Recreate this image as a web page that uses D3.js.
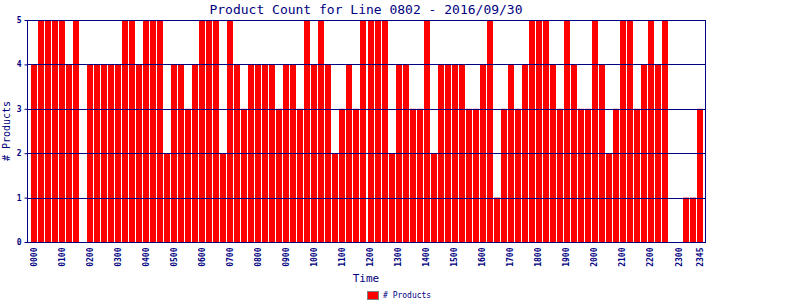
<!DOCTYPE html>
<head>
    <meta charset="utf-8">
    <script src="https://d3js.org/d3.v7.min.js"></script>
    <style>
        body { margin: 0; background: #fff; }
        text { font-family: "DejaVu Sans Mono", monospace; fill: #000080; }
    </style>
</head>
<body>
    <svg></svg>
    <script>
        // product counts per 15 minute slot
        var slots = [];
        for (var h = 0; h < 24; h++) {
            ["00", "15", "30", "45"].forEach(function (m) {
                slots.push((h < 10 ? "0" : "") + h + m);
            });
        }
        var counts = [4, 5, 5, 5, 5, 4, 5, 0, 4, 4, 4, 4, 4, 5, 5, 4,
                      5, 5, 5, 2, 4, 4, 3, 4, 5, 5, 5, 2, 5, 4, 3, 4,
                      4, 4, 4, 3, 4, 4, 3, 5, 4, 5, 4, 2, 3, 4, 3, 5,
                      5, 5, 5, 2, 4, 4, 3, 3, 5, 2, 4, 4, 4, 4, 3, 3,
                      4, 5, 1, 3, 4, 3, 4, 5, 5, 5, 4, 3, 5, 4, 3, 3,
                      5, 4, 2, 3, 5, 5, 3, 4, 5, 4, 5, 0, 0, 1, 1, 3];
        var yTicks = [0, 1, 2, 3, 4, 5];
        var xTickLabels = slots.filter(function (s, i) { return i % 4 === 0; }).concat(["2345"]);

        var width = 800, height = 300;
        var plot = { left: 27, right: 705, top: 20, bottom: 242 };
        var navy = "#000080";

        var svg = d3.select("svg")
            .attr("width", width)
            .attr("height", height);

        var x = d3.scaleBand()
            .domain(slots)
            .range([31, 703])
            .paddingInner(1 / 7);
        var y = d3.scaleLinear()
            .domain([0, 5])
            .range([plot.bottom, plot.top]);

        // bars
        svg.append("g")
            .selectAll("rect")
            .data(counts)
            .enter().append("rect")
            .attr("x", function (d, i) { return Math.round(x(slots[i])); })
            .attr("width", 6)
            .attr("y", function (d) { return y(d); })
            .attr("height", function (d) { return y(0) - y(d); })
            .attr("fill", "#ff0000");

        // gridlines drawn over the bars
        svg.append("g")
            .selectAll("line")
            .data(yTicks)
            .enter().append("line")
            .attr("x1", plot.left).attr("x2", plot.right)
            .attr("y1", function (d) { return Math.round(y(d)) + 0.5; })
            .attr("y2", function (d) { return Math.round(y(d)) + 0.5; })
            .attr("stroke", navy);

        // frame
        svg.append("rect")
            .attr("x", plot.left + 0.5).attr("y", plot.top + 0.5)
            .attr("width", plot.right - plot.left)
            .attr("height", plot.bottom - plot.top)
            .attr("fill", "none")
            .attr("stroke", navy);

        // y axis
        var yAxis = svg.append("g")
            .attr("transform", "translate(" + (plot.left + 0.5) + ",0)")
            .call(d3.axisLeft(y).tickValues(yTicks).tickFormat(d3.format("d")).tickSize(3).tickPadding(3));
        yAxis.select(".domain").remove();
        yAxis.selectAll("line").attr("stroke", navy);
        yAxis.selectAll("text").style("font-size", "8px").style("font-weight", "bold").attr("fill", navy);

        // x axis
        var xAxis = svg.append("g")
            .attr("transform", "translate(0," + (plot.bottom + 0.5) + ")")
            .call(d3.axisBottom(x).tickValues(xTickLabels).tickSize(0)
                .tickFormat(function (d) { return d; }));
        xAxis.select(".domain").remove();
        xAxis.selectAll("text")
            .style("font-size", "8px")
            .style("font-weight", "bold")
            .attr("fill", navy)
            .attr("transform", "rotate(-90)")
            .attr("text-anchor", "end")
            .attr("x", -5)
            .attr("y", 0)
            .attr("dy", "0.32em");

        // title
        svg.append("text")
            .attr("x", (plot.left + plot.right) / 2)
            .attr("y", 14)
            .attr("text-anchor", "middle")
            .style("font-size", "13px")
            .text("Product Count for Line 0802 - 2016/09/30");

        // axis titles
        svg.append("text")
            .attr("x", (plot.left + plot.right) / 2)
            .attr("y", 282)
            .attr("text-anchor", "middle")
            .style("font-size", "11px")
            .text("Time");
        svg.append("text")
            .attr("transform", "translate(10," + (plot.top + plot.bottom) / 2 + ") rotate(-90)")
            .attr("text-anchor", "middle")
            .style("font-size", "10px")
            .text("# Products");

        // legend
        svg.append("rect")
            .attr("x", 367.5).attr("y", 291.5)
            .attr("width", 11).attr("height", 8)
            .attr("fill", "#ff0000")
            .attr("stroke", "#808080");
        svg.append("text")
            .attr("x", 383)
            .attr("y", 298)
            .style("font-size", "8px")
            .text("# Products");
    </script>
</body>
